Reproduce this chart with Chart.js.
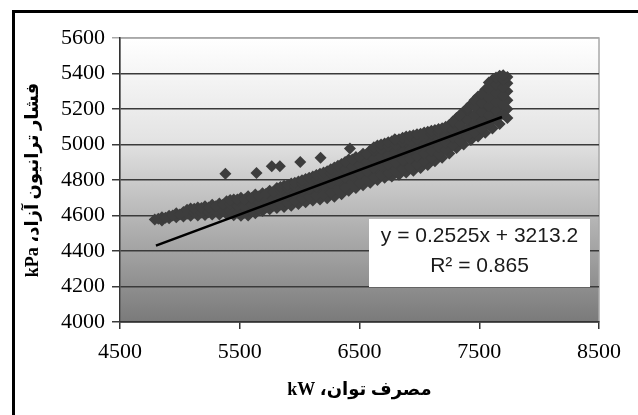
<!DOCTYPE html>
<html>
<head>
<meta charset="utf-8">
<script src="https://cdn.jsdelivr.net/npm/chart.js@4.4.0/dist/chart.umd.min.js"></script>
<style>
    html, body { margin: 0; padding: 0; background: #fff; }
    #frame {
        position: absolute; left: 12px; top: 10px;
        width: 700px; height: 500px;
        border-left: 3px solid #000; border-top: 3px solid #000;
    }
    #wrap { position: absolute; left: 0; top: 0; width: 638px; height: 415px; }
</style>
</head>
<body>
<div id="frame"></div>
<div id="wrap"><canvas id="main-chart" dir="rtl" width="638" height="415"></canvas></div>
<script>
// Potenza assorbita (kW) / pressione turbina (kPa)

const xTicks = [4500, 5500, 6500, 7500, 8500];
const yTicks = [4000, 4200, 4400, 4600, 4800, 5000, 5200, 5400, 5600];

const xTitle = 'مصرف توان، kW';
const yTitle = 'فشار ترانیون آزاد، kPa';
const eqLines = ['y = 0.2525x + 3213.2', 'R² = 0.865'];

// punti misurati, colonna per colonna
const powerKW = [
    4790,
    4850, 4850,
    4910, 4910,
    4970, 4970,
    5030, 5030,
    5090, 5090, 5090,
    5150, 5150, 5150,
    5210, 5210, 5210,
    5270, 5270, 5270,
    5330, 5330, 5330,
    5390, 5390, 5390,
    5450, 5450, 5450,
    5510, 5510, 5510, 5510,
    5570, 5570, 5570, 5570,
    5630, 5630, 5630, 5630,
    5690, 5690, 5690, 5690,
    5750, 5750, 5750, 5750,
    5810, 5810, 5810, 5810,
    5870, 5870, 5870, 5870,
    5930, 5930, 5930, 5930,
    5990, 5990, 5990, 5990,
    6050, 6050, 6050, 6050,
    6110, 6110, 6110, 6110,
    6170, 6170, 6170, 6170,
    6230, 6230, 6230, 6230,
    6290, 6290, 6290, 6290,
    6350, 6350, 6350, 6350,
    6410, 6410, 6410, 6410, 6410,
    6470, 6470, 6470, 6470, 6470,
    6530, 6530, 6530, 6530, 6530,
    6590, 6590, 6590, 6590, 6590,
    6650, 6650, 6650, 6650, 6650,
    6710, 6710, 6710, 6710, 6710,
    6770, 6770, 6770, 6770, 6770,
    6830, 6830, 6830, 6830, 6830,
    6890, 6890, 6890, 6890, 6890,
    6950, 6950, 6950, 6950, 6950,
    7010, 7010, 7010, 7010, 7010,
    7070, 7070, 7070, 7070, 7070,
    7130, 7130, 7130, 7130, 7130,
    7190, 7190, 7190, 7190, 7190,
    7250, 7250, 7250, 7250, 7250,
    7310, 7310, 7310, 7310, 7310,
    7370, 7370, 7370, 7370, 7370,
    7430, 7430, 7430, 7430, 7430,
    7490, 7490, 7490, 7490, 7490, 7490,
    7550, 7550, 7550, 7550, 7550, 7550,
    7610, 7610, 7610, 7610, 7610, 7610, 7610,
    7670, 7670, 7670, 7670, 7670, 7670, 7670,
    7735, 7735, 7735, 7735, 7735, 7735,
    // colonne intermedie
    4820, 4880, 4940, 5000,
    5060, 5060,
    5120, 5120,
    5180, 5180,
    5240, 5240,
    5300, 5300,
    5360, 5360,
    5420, 5420, 5420,
    5480, 5480, 5480,
    5540, 5540, 5540,
    5600, 5600, 5600,
    5660, 5660, 5660,
    5720, 5720, 5720,
    5780, 5780, 5780,
    5840, 5840, 5840, 5840,
    5900, 5900, 5900, 5900,
    5960, 5960, 5960, 5960,
    6020, 6020, 6020, 6020,
    6080, 6080, 6080, 6080,
    6140, 6140, 6140, 6140,
    6200, 6200, 6200, 6200,
    6260, 6260, 6260, 6260,
    6320, 6320, 6320, 6320,
    6380, 6380, 6380, 6380,
    6440, 6440, 6440, 6440,
    6500, 6500, 6500, 6500,
    6560, 6560, 6560, 6560,
    6620, 6620, 6620, 6620, 6620,
    6680, 6680, 6680, 6680, 6680,
    6740, 6740, 6740, 6740, 6740,
    6800, 6800, 6800, 6800, 6800,
    6860, 6860, 6860, 6860, 6860,
    6920, 6920, 6920, 6920, 6920,
    6980, 6980, 6980, 6980, 6980,
    7040, 7040, 7040, 7040, 7040,
    7100, 7100, 7100, 7100, 7100,
    7160, 7160, 7160, 7160, 7160,
    7220, 7220, 7220, 7220, 7220,
    7280, 7280, 7280, 7280, 7280,
    7340, 7340, 7340, 7340, 7340,
    7400, 7400, 7400, 7400, 7400,
    7460, 7460, 7460, 7460, 7460,
    7520, 7520, 7520, 7520, 7520,
    7580, 7580, 7580, 7580, 7580, 7580,
    7640, 7640, 7640, 7640, 7640, 7640,
    7700, 7700, 7700, 7700, 7700, 7700,
    // punti isolati sopra la nuvola
    5380, 5640, 5767, 5835, 6005, 6175, 6420, 6795
];

const pressureKPa = [
    4578,
    4572, 4590,
    4585, 4598,
    4590, 4612,
    4595, 4620,
    4598, 4625, 4640,
    4600, 4632, 4645,
    4603, 4630, 4652,
    4605, 4635, 4660,
    4606, 4640, 4668,
    4608, 4645, 4680,
    4602, 4640, 4690,
    4598, 4630, 4665, 4700,
    4600, 4635, 4675, 4708,
    4612, 4645, 4685, 4718,
    4625, 4660, 4695, 4725,
    4635, 4670, 4705, 4740,
    4642, 4675, 4715, 4755,
    4648, 4685, 4725, 4768,
    4655, 4695, 4735, 4780,
    4665, 4705, 4745, 4792,
    4675, 4720, 4760, 4805,
    4685, 4730, 4775, 4820,
    4690, 4740, 4790, 4835,
    4697, 4750, 4800, 4850,
    4705, 4760, 4815, 4870,
    4720, 4775, 4830, 4890,
    4740, 4790, 4845, 4880, 4915,
    4755, 4800, 4855, 4895, 4930,
    4770, 4815, 4870, 4910, 4948,
    4785, 4830, 4880, 4925, 4968,
    4800, 4845, 4895, 4940, 4995,
    4812, 4860, 4905, 4950, 5005,
    4820, 4865, 4915, 4960, 5018,
    4830, 4875, 4925, 4975, 5030,
    4842, 4885, 4935, 4985, 5045,
    4852, 4895, 4945, 4995, 5052,
    4868, 4910, 4955, 5005, 5060,
    4885, 4925, 4970, 5020, 5072,
    4905, 4945, 4990, 5040, 5082,
    4925, 4965, 5005, 5050, 5092,
    4950, 4990, 5030, 5070, 5110,
    4980, 5020, 5060, 5105, 5150,
    5000, 5040, 5085, 5135, 5185,
    5025, 5065, 5110, 5165, 5225,
    5045, 5090, 5140, 5190, 5240, 5270,
    5066, 5110, 5160, 5210, 5260, 5310,
    5090, 5140, 5190, 5240, 5290, 5340, 5365,
    5115, 5165, 5215, 5265, 5315, 5360, 5388,
    5150, 5200, 5250, 5300, 5345, 5380,
    // colonne intermedie
    4582, 4588, 4600, 4606,
    4610, 4632,
    4615, 4638,
    4617, 4642,
    4618, 4645,
    4622, 4652,
    4625, 4660,
    4625, 4665, 4688,
    4615, 4652, 4690,
    4615, 4652, 4690,
    4622, 4660, 4698,
    4635, 4672, 4708,
    4648, 4688, 4722,
    4655, 4692, 4732,
    4662, 4700, 4742, 4760,
    4672, 4712, 4752, 4772,
    4683, 4722, 4765, 4785,
    4695, 4738, 4780, 4798,
    4705, 4750, 4792, 4812,
    4712, 4760, 4805, 4828,
    4720, 4770, 4818, 4842,
    4730, 4782, 4838, 4860,
    4745, 4798, 4855, 4880,
    4758, 4812, 4862, 4902,
    4772, 4825, 4875, 4915,
    4785, 4835, 4885, 4928,
    4800, 4850, 4900, 4945,
    4815, 4868, 4918, 4965, 4985,
    4828, 4880, 4928, 4975, 5000,
    4840, 4888, 4938, 4990, 5012,
    4850, 4898, 4950, 5000, 5025,
    4862, 4910, 4960, 5012, 5038,
    4872, 4920, 4970, 5022, 5048,
    4888, 4932, 4980, 5030, 5058,
    4905, 4948, 4995, 5045, 5068,
    4925, 4965, 5015, 5060, 5078,
    4945, 4985, 5030, 5070, 5088,
    4970, 5010, 5050, 5090, 5100,
    4995, 5040, 5082, 5125, 5130,
    5020, 5062, 5110, 5160, 5168,
    5045, 5088, 5138, 5195, 5205,
    5068, 5115, 5165, 5215, 5250,
    5088, 5135, 5185, 5235, 5285,
    5115, 5165, 5215, 5265, 5315, 5350,
    5140, 5190, 5240, 5290, 5338, 5378,
    5170, 5225, 5275, 5322, 5365, 5390,
    4835, 4840, 4877, 4877, 4902, 4926, 4977, 5030
];

// linea di tendenza: estremi
const trendX = [4800, 7690];
const trendY = [4430, 5155];

const serif = "'Liberation Serif', 'DejaVu Serif', 'DejaVu Sans', serif";

/**
 * Sfondo sfumato dell'area del grafico + bordo grigio
 */
const plotBackground = {
    id: 'plotBackground',
    beforeDraw(chart) {
        const { ctx, chartArea: a } = chart;
        const g = ctx.createLinearGradient(0, a.top, 0, a.bottom);
        g.addColorStop(0, '#ffffff');
        g.addColorStop(0.35, '#e4e4e4');
        g.addColorStop(1, '#7a7a7a');
        ctx.save();
        ctx.fillStyle = g;
        ctx.fillRect(a.left, a.top, a.right - a.left, a.bottom - a.top);
        ctx.strokeStyle = '#a8a8a8';
        ctx.lineWidth = 1.5;
        ctx.strokeRect(a.left, a.top, a.right - a.left, a.bottom - a.top);
        ctx.restore();
    }
};

/**
 * Riquadro con equazione della retta e R²
 */
const equationBox = {
    id: 'equationBox',
    afterDatasetsDraw(chart) {
        const ctx = chart.ctx;
        const left = 369, top = 219, w = 221, h = 68;
        ctx.save();
        ctx.fillStyle = '#ffffff';
        ctx.fillRect(left, top, w, h);
        ctx.direction = 'ltr';
        ctx.fillStyle = '#1a1a1a';
        ctx.font = "21px 'Liberation Sans', Arial, sans-serif";
        ctx.textAlign = 'center';
        ctx.textBaseline = 'middle';
        ctx.fillText(eqLines[0], left + w / 2, top + 17);
        ctx.fillText(eqLines[1], left + w / 2, top + 47);
        ctx.restore();
    }
};

function initChart() {
    const ctx = document.getElementById('main-chart');

    const points = powerKW.map((x, i) => ({ x: x, y: pressureKPa[i] }));
    const trend = trendX.map((x, i) => ({ x: x, y: trendY[i] }));

    new Chart(ctx, {
        type: 'scatter',
        data: {
            datasets: [
                {
                    label: 'trend',
                    data: trend,
                    showLine: true,
                    borderColor: '#000',
                    borderWidth: 2.5,
                    pointRadius: 0
                },
                {
                    label: 'data',
                    data: points,
                    pointStyle: 'rectRot',
                    pointRadius: 6,
                    pointBackgroundColor: '#3d3d3d',
                    pointBorderWidth: 0
                }
            ]
        },
        options: {
            responsive: false,
            animation: false,
            layout: { padding: { left: 0, top: 38, right: 39, bottom: 0 } },
            plugins: {
                legend: { display: false },
                tooltip: { enabled: false }
            },
            scales: {
                x: {
                    type: 'linear',
                    min: 4500,
                    max: 8500,
                    afterBuildTicks: scale => { scale.ticks = xTicks.map(v => ({ value: v })); },
                    afterFit: scale => { scale.height = 93; },
                    grid: { drawOnChartArea: false, tickLength: 7, color: '#333', lineWidth: 1.5 },
                    border: { color: '#333', width: 1.5 },
                    ticks: {
                        padding: 10,
                        color: '#000',
                        font: { family: serif, size: 22 },
                        callback: v => String(v)
                    },
                    title: {
                        display: true,
                        text: xTitle,
                        color: '#000',
                        font: { family: serif, size: 18, weight: 'bold' },
                        padding: { top: 0, bottom: 14 }
                    }
                },
                y: {
                    min: 4000,
                    max: 5600,
                    afterBuildTicks: scale => { scale.ticks = yTicks.map(v => ({ value: v })); },
                    afterFit: scale => { scale.width = 120; },
                    grid: {
                        tickLength: 8,
                        lineWidth: 1.5,
                        color: c => (c.tick && c.tick.value === 5600) ? '#a8a8a8' : '#3a3a3a'
                    },
                    border: { color: '#333', width: 1.5 },
                    ticks: {
                        padding: 7,
                        color: '#000',
                        font: { family: serif, size: 22 },
                        callback: v => String(v)
                    },
                    title: {
                        display: true,
                        text: yTitle,
                        color: '#000',
                        font: { family: serif, size: 18, weight: 'bold' },
                        padding: { top: 23, bottom: 0 }
                    }
                }
            }
        },
        plugins: [plotBackground, equationBox]
    });
}

initChart();
</script>
</body>
</html>
